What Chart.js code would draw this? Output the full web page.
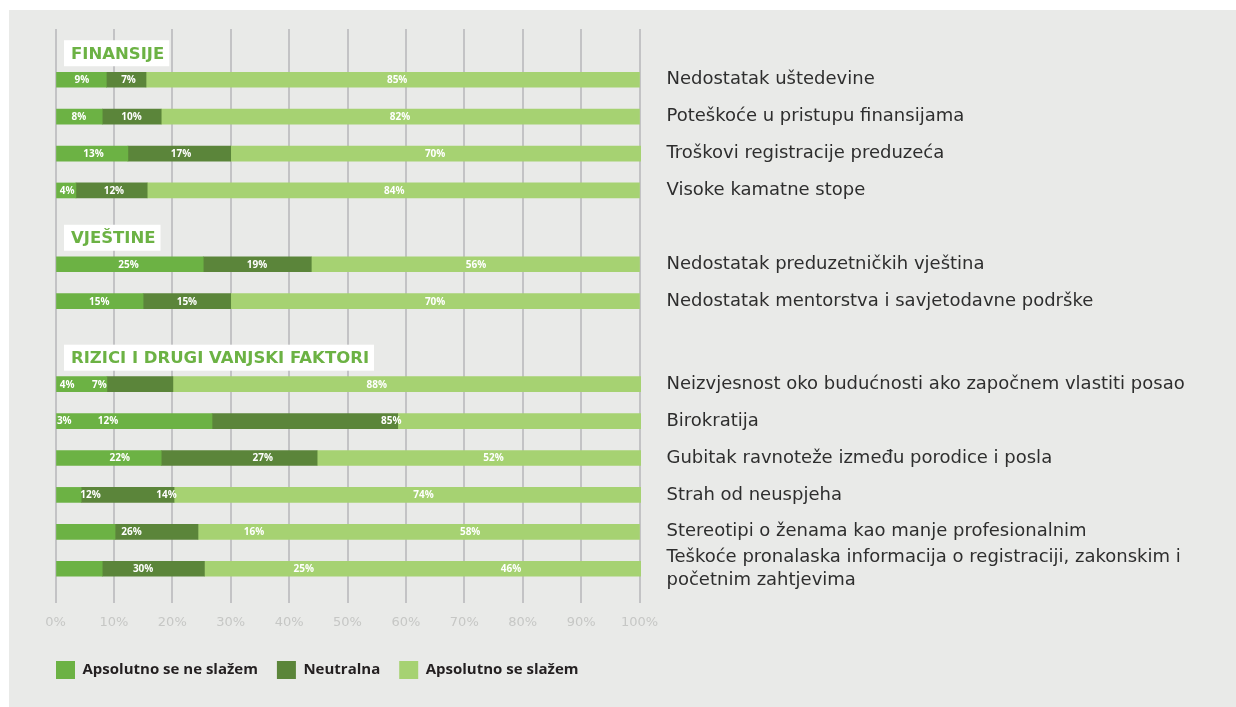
<!DOCTYPE html>
<html>
<head>
<meta charset="utf-8">
<script src="https://cdn.jsdelivr.net/npm/chart.js@4.4.1/dist/chart.umd.min.js"></script>
<style>
  html, body { margin: 0; padding: 0; background: #ffffff; }
  canvas { display: block; }
</style>
</head>
<body>
<canvas id="c" width="1236" height="707"></canvas>
<script>
// ---------------- DATA ----------------
const categories = [
  'Nedostatak uštedevine',
  'Poteškoće u pristupu finansijama',
  'Troškovi registracije preduzeća',
  'Visoke kamatne stope',
  'Nedostatak preduzetničkih vještina',
  'Nedostatak mentorstva i savjetodavne podrške',
  'Neizvjesnost oko budućnosti ako započnem vlastiti posao',
  'Birokratija',
  'Gubitak ravnoteže između porodice i posla',
  'Strah od neuspjeha',
  'Stereotipi o ženama kao manje profesionalnim',
  ['Teškoće pronalaska informacija o registraciji, zakonskim i', 'početnim zahtjevima']
];
const groupTitles = ['FINANSIJE', 'VJEŠTINE', 'RIZICI I DRUGI VANJSKI FAKTORI'];
const groupSizes = [4, 2, 6];
const seriesNames = ['Apsolutno se ne slažem', 'Neutralna', 'Apsolutno se slažem'];

// bar lengths as drawn in the picture (%)
const disagree = [8.7, 8.0, 12.4, 3.5, 25.3, 15.0, 8.8, 26.8, 18.1, 4.4, 10.2, 8.0];
const neutral  = [6.8, 10.1, 17.6, 12.2, 18.5, 15.0, 11.3, 31.8, 26.7, 15.9, 14.2, 17.5];
const agree    = [84.5, 81.9, 70.2, 84.3, 56.2, 70.0, 80.1, 41.6, 55.4, 79.9, 75.6, 74.7];

// value labels printed on the bars (%)
const disagreeLabels = [9, 8, 13, 4, 25, 15, 4, 3, 22, 12, 26, 30];
const neutralLabels  = [7, 10, 17, 12, 19, 15, 7, 12, 27, 14, 16, 25];
const agreeLabels    = [85, 82, 70, 84, 56, 70, 88, 85, 52, 74, 58, 46];

const xTickValues = [0, 10, 20, 30, 40, 50, 60, 70, 80, 90, 100];

// ---------------- LAYOUT HELPERS ----------------
const LEAD_SLOTS = [5, 4, 5];   // empty slots before each group (header room)
const ROW_SLOTS = 4;            // slots taken by each row
const slotLabels = [];
const slotRow = [];
const groupFirstSlot = [];
(function buildSlots() {
  let r = 0;
  groupSizes.forEach((n, g) => {
    for (let k = 0; k < LEAD_SLOTS[g]; k++) { slotLabels.push(''); slotRow.push(-1); }
    groupFirstSlot.push(slotLabels.length);
    for (let j = 0; j < n; j++) {
      slotLabels.push(categories[r]); slotRow.push(r);
      for (let k = 1; k < ROW_SLOTS; k++) { slotLabels.push(''); slotRow.push(-1); }
      r++;
    }
  });
})();
const toSlots = arr => slotRow.map(r => (r < 0 ? null : arr[r]));

const COLORS = ['#6cb244', '#5b853a', '#a6d272'];
const FONT = "'Open Sans', 'Noto Sans', sans-serif";
const WIDE = "'DejaVu Sans', sans-serif";
Chart.defaults.font.family = FONT;

const labelSets = [disagreeLabels, neutralLabels, agreeLabels];

const deco = {
  id: 'deco',
  afterLayout(chart) {
    const lg = chart.legend;
    if (lg) { lg.left = 37; lg.top = 642; }
  },
  beforeDraw(chart) {
    const ctx = chart.ctx;
    ctx.save();
    ctx.fillStyle = '#ffffff';
    ctx.fillRect(0, 0, chart.width, chart.height);
    ctx.fillStyle = '#e9eae8';
    ctx.fillRect(9, 10, chart.width - 9, chart.height - 10);
    ctx.restore();
  },
  afterDatasetsDraw(chart) {
    const ctx = chart.ctx;
    const xs = chart.scales.x;
    const ys = chart.scales.y;
    ctx.save();
    // value labels
    ctx.font = "bold 10px " + FONT;
    ctx.fillStyle = '#ffffff';
    ctx.textAlign = 'center';
    ctx.textBaseline = 'middle';
    const meta0 = chart.getDatasetMeta(0);
    slotRow.forEach((r, slot) => {
      if (r < 0) return;
      const y = meta0.data[slot].y;
      let cum = 0;
      labelSets.forEach(set => {
        const v = set[r];
        ctx.fillText(v + '%', xs.getPixelForValue(cum + v / 2), y + 0.5);
        cum += v;
      });
    });
    // group headers
    ctx.font = "bold 16.5px " + WIDE;
    ctx.textAlign = 'left';
    groupTitles.forEach((t, g) => {
      const cy = ys.getPixelForValue(groupFirstSlot[g]) - 26.5;
      const w = ctx.measureText(t).width;
      ctx.fillStyle = '#ffffff';
      ctx.fillRect(64, cy - 13, w + 12, 26);
      ctx.fillStyle = '#6cb244';
      ctx.fillText(t, 71, cy + 1);
    });
    ctx.restore();
  }
};

new Chart(document.getElementById('c'), {
  type: 'bar',
  data: {
    labels: slotLabels,
    datasets: [0, 1, 2].map(i => ({
      label: seriesNames[i],
      data: toSlots([disagree, neutral, agree][i]),
      backgroundColor: COLORS[i],
      borderWidth: 0,
      barThickness: 15,
      clip: false
    }))
  },
  options: {
    indexAxis: 'y',
    responsive: false,
    animation: false,
    devicePixelRatio: 1,
    layout: { padding: { top: 29, left: 55.5, right: 0, bottom: 9 } },
    plugins: {
      tooltip: { enabled: false },
      legend: {
        position: 'bottom',
        align: 'start',
        labels: {
          boxWidth: 19,
          boxHeight: 18,
          padding: 19,
          color: '#231f20',
          font: { size: 15, weight: 'bold', family: FONT }
        }
      }
    },
    scales: {
      x: {
        stacked: true,
        min: 0,
        max: 100,
        afterBuildTicks: s => { s.ticks = xTickValues.map(v => ({ value: v })); },
        ticks: {
          callback: v => v + '%',
          color: '#c6c7c5',
          font: { size: 13, family: WIDE },
          padding: 12,
          maxRotation: 0
        },
        grid: { color: '#c3c3c5', lineWidth: 2, drawTicks: true, tickLength: 2 },
        border: { display: false },
        afterFit: s => { s.height = 50; }
      },
      y: {
        stacked: true,
        position: 'right',
        ticks: {
          autoSkip: false,
          color: '#2e2e2e',
          padding: 27,
          font: { size: 18, family: WIDE, lineHeight: 1.25 }
        },
        grid: { display: false, drawTicks: false },
        border: { display: false },
        afterFit: s => { s.width = 1236 - 639.5; s.paddingTop = 0; s.paddingBottom = 0; }
      }
    }
  },
  plugins: [deco]
});
</script>
</body>
</html>
